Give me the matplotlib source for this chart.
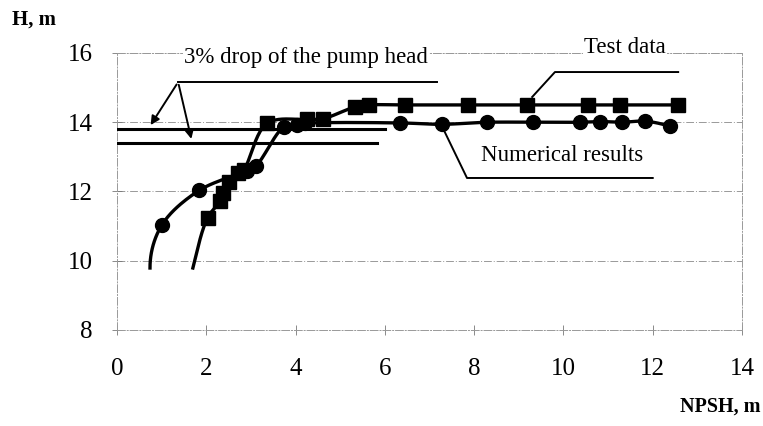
import numpy as np
import matplotlib
matplotlib.use("Agg")
import matplotlib.pyplot as plt

plt.rcParams['font.family'] = ['Liberation Serif', 'DejaVu Serif']

# numerical results (first point is the curve start, drawn without marker)
num_x = [0.74, 1.0, 1.84, 2.91, 3.12, 3.74, 4.03, 4.22, 6.34, 7.28, 8.29, 9.32, 10.37, 10.82, 11.31, 11.83, 12.39]
num_y = [9.79, 11.02, 12.03, 12.6, 12.75, 13.87, 13.93, 13.97, 13.98, 13.94, 14.0, 14.0, 14.0, 14.02, 14.0, 14.03, 13.88]

# test data (first point is the curve start, drawn without marker)
test_x = [1.70, 2.03, 2.31, 2.38, 2.50, 2.72, 2.84, 3.36, 4.26, 4.61, 5.33, 5.65, 6.45, 7.86, 9.18, 10.55, 11.27, 12.57]
test_y = [9.79, 11.24, 11.72, 11.97, 12.27, 12.52, 12.62, 13.97, 14.08, 14.1, 14.44, 14.5, 14.5, 14.5, 14.5, 14.5, 14.5, 14.5]

# 3% head drop levels
drop_levels = [13.8, 13.41]
drop_xend = [6.0, 5.82]

xticks = [0, 2, 4, 6, 8, 10, 12, 14]
yticks = [8, 10, 12, 14, 16]


def smooth(x, y, n=24):
    # centripetal catmull-rom through the points (done in screen-ish units)
    sc = np.array([44.6, 34.6])
    p = np.column_stack([x, y]).astype(float) * sc
    # end tangents taken from a parabola through the first / last three points
    p = np.vstack([3 * p[0] - 3 * p[1] + p[2], p, 3 * p[-1] - 3 * p[-2] + p[-3]])
    out = []
    for i in range(1, len(p) - 2):
        p0, p1, p2, p3 = p[i - 1], p[i], p[i + 1], p[i + 2]
        t0 = 0.0
        t1 = t0 + np.linalg.norm(p1 - p0) ** 0.5
        t2 = t1 + np.linalg.norm(p2 - p1) ** 0.5
        t3 = t2 + np.linalg.norm(p3 - p2) ** 0.5
        t = np.linspace(t1, t2, n)[:, None]
        a1 = (t1 - t) / (t1 - t0) * p0 + (t - t0) / (t1 - t0) * p1
        a2 = (t2 - t) / (t2 - t1) * p1 + (t - t1) / (t2 - t1) * p2
        a3 = (t3 - t) / (t3 - t2) * p2 + (t - t2) / (t3 - t2) * p3
        b1 = (t2 - t) / (t2 - t0) * a1 + (t - t0) / (t2 - t0) * a2
        b2 = (t3 - t) / (t3 - t1) * a2 + (t - t1) / (t3 - t1) * a3
        c = (t2 - t) / (t2 - t1) * b1 + (t - t1) / (t2 - t1) * b2
        out.append(c)
    out = np.vstack(out) / sc
    return out[:, 0], out[:, 1]


fig = plt.figure(figsize=(7.63, 4.26), dpi=100)
ax = fig.add_axes([0.1533, 0.2254, 0.8192, 0.6502])

ax.set_xlim(0, 14)
ax.set_ylim(8, 16)
ax.set_xticks(xticks)
ax.set_yticks(yticks)
ax.tick_params(labelsize=18, direction='inout', length=7, width=0.6, color='#777777')
ax.tick_params(axis='x', pad=17)
ax.tick_params(axis='y', pad=14)

ax.grid(axis='y', color='#999999', lw=0.7, ls=(0, (8, 2, 1, 2)))
for s in ax.spines.values():
    s.set_color('#999999')
    s.set_linewidth(0.7)
    s.set_linestyle((0, (8, 2, 1, 2)))

# 3% drop lines
for lev, xe in zip(drop_levels, drop_xend):
    ax.plot([0, xe], [lev, lev], color='black', lw=2.2, zorder=3)

sx, sy = smooth(num_x, num_y)
ax.plot(sx, sy, color='black', lw=2.4, zorder=4)
ax.plot(num_x[1:], num_y[1:], 'o', color='black', ms=10, zorder=5)

sx, sy = smooth(test_x, test_y)
ax.plot(sx, sy, color='black', lw=2.4, zorder=4)
ax.plot(test_x[1:], test_y[1:], 's', color='black', ms=10, zorder=5)

# annotations
ax.plot([1.37, 7.17], [15.16, 15.16], color='black', lw=1.4, clip_on=False)
ax.annotate('', xy=(0.72, 13.85), xytext=(1.37, 15.16),
            arrowprops=dict(arrowstyle='-|>', color='black', lw=1.4, mutation_scale=13))
ax.annotate('', xy=(1.68, 13.44), xytext=(1.37, 15.16),
            arrowprops=dict(arrowstyle='-|>', color='black', lw=1.4, mutation_scale=13))
ax.text(4.23, 15.87, '3% drop of the pump head', fontsize=16.5, ha='center', va='center',
        bbox=dict(fc='white', ec='none', pad=1), zorder=6)

ax.plot([9.3, 9.81, 12.57], [14.73, 15.45, 15.45], color='black', lw=1.4, clip_on=False)
ax.text(11.38, 16.17, 'Test data', fontsize=16.5, ha='center', va='center',
        bbox=dict(fc='white', ec='none', pad=1), zorder=6, clip_on=False)

ax.plot([7.3, 7.84, 12.0], [13.83, 12.39, 12.39], color='black', lw=1.4)
ax.text(9.97, 13.05, 'Numerical results', fontsize=16.5, ha='center', va='center',
        bbox=dict(fc='white', ec='none', pad=1), zorder=6)

fig.text(12 / 763, 1 - 20 / 426, 'H, m', fontsize=15, fontweight='bold', ha='left', va='center')
fig.text(760 / 763, 1 - 407 / 426, 'NPSH, m', fontsize=14.5, fontweight='bold', ha='right', va='center')

fig.savefig('out.png', dpi=100)
